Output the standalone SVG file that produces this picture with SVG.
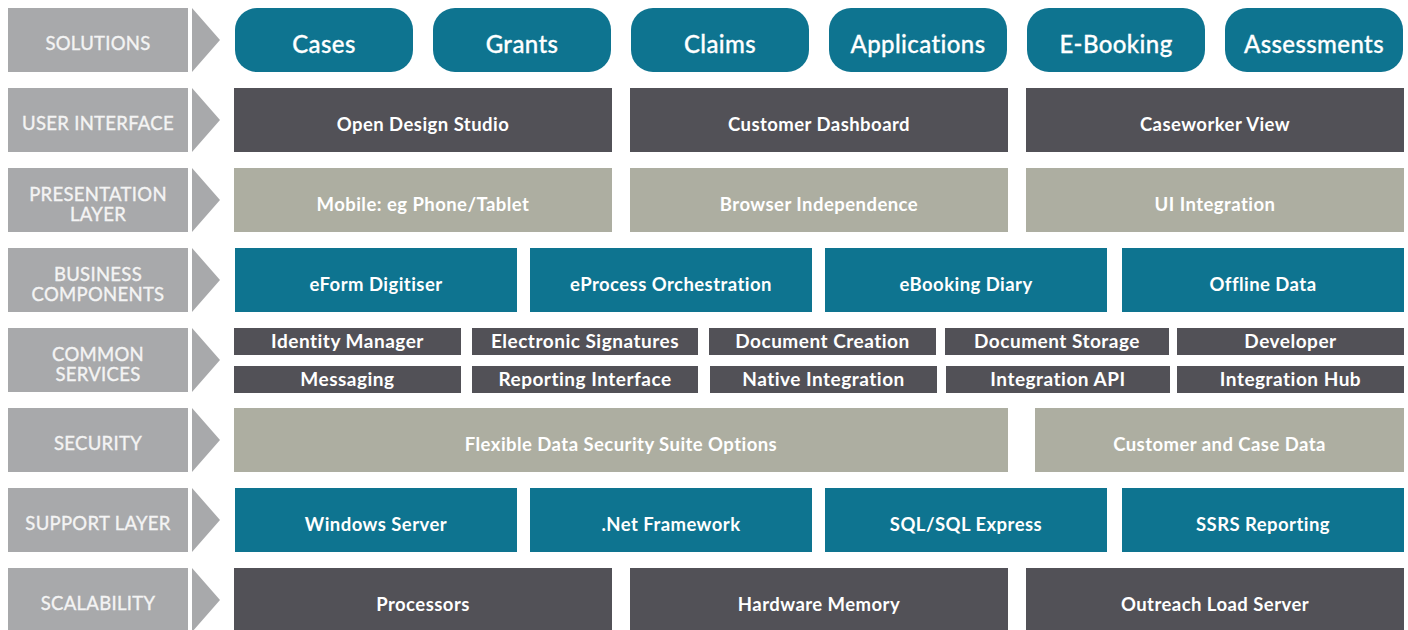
<svg xmlns="http://www.w3.org/2000/svg" width="1408" height="630" viewBox="0 0 1408 630">
<style>
.lbl{fill:#a8a9ab}
.arr{fill:#a8a9ab}
.lt{font-family:Lato,"Liberation Sans",sans-serif;font-size:18.5px;fill:#f4f4f4;text-anchor:middle;letter-spacing:0.3px;stroke:#f4f4f4;stroke-width:0.35}
.teal{fill:#0e7490}
.dark{fill:#525157}
.beige{fill:#adaea1}
.bt{font-family:Lato,"Liberation Sans",sans-serif;font-size:24px;font-weight:500;fill:#ffffff;text-anchor:middle;letter-spacing:0.4px;stroke:#ffffff;stroke-width:0.3}
.t{font-family:Lato,"Liberation Sans",sans-serif;font-size:18.5px;font-weight:700;fill:#ffffff;text-anchor:middle;letter-spacing:0.45px}
.ts{font-family:Lato,"Liberation Sans",sans-serif;font-size:19px;font-weight:700;fill:#ffffff;text-anchor:middle;letter-spacing:0.5px}
</style>
<rect width="1408" height="630" fill="#ffffff"/>
<g id="labels">
<g id="lbl-solutions"><rect class="lbl" x="8" y="8" width="180" height="64"/><polygon class="arr" points="192,8 220,40 192,72"/><text class="lt" x="98" y="50">SOLUTIONS</text></g>
<g id="lbl-ui"><rect class="lbl" x="8" y="88" width="180" height="64"/><polygon class="arr" points="192,88 220,120 192,152"/><text class="lt" x="98" y="130">USER INTERFACE</text></g>
<g id="lbl-pres"><rect class="lbl" x="8" y="168" width="180" height="64"/><polygon class="arr" points="192,168 220,200 192,232"/><text class="lt" x="98" y="201">PRESENTATION</text><text class="lt" x="98" y="221">LAYER</text></g>
<g id="lbl-bus"><rect class="lbl" x="8" y="248" width="180" height="64"/><polygon class="arr" points="192,248 220,280 192,312"/><text class="lt" x="98" y="281">BUSINESS</text><text class="lt" x="98" y="301">COMPONENTS</text></g>
<g id="lbl-common"><rect class="lbl" x="8" y="328" width="180" height="64"/><polygon class="arr" points="192,328 220,360 192,392"/><text class="lt" x="98" y="361">COMMON</text><text class="lt" x="98" y="381">SERVICES</text></g>
<g id="lbl-sec"><rect class="lbl" x="8" y="408" width="180" height="64"/><polygon class="arr" points="192,408 220,440 192,472"/><text class="lt" x="98" y="450">SECURITY</text></g>
<g id="lbl-sup"><rect class="lbl" x="8" y="488" width="180" height="64"/><polygon class="arr" points="192,488 220,520 192,552"/><text class="lt" x="98" y="530">SUPPORT LAYER</text></g>
<g id="lbl-scal"><rect class="lbl" x="8" y="568" width="180" height="64"/><polygon class="arr" points="192,568 220,600 192,632"/><text class="lt" x="98" y="610">SCALABILITY</text></g>
</g>
<g id="solutions">
<g id="cases"><rect class="teal" x="235" y="8" width="178" height="64" rx="22"/><text class="bt" x="324" y="53">Cases</text></g>
<g id="grants"><rect class="teal" x="433" y="8" width="178" height="64" rx="22"/><text class="bt" x="522" y="53">Grants</text></g>
<g id="claims"><rect class="teal" x="631" y="8" width="178" height="64" rx="22"/><text class="bt" x="720" y="53">Claims</text></g>
<g id="applications"><rect class="teal" x="829" y="8" width="178" height="64" rx="22"/><text class="bt" x="918" y="53">Applications</text></g>
<g id="ebooking"><rect class="teal" x="1027" y="8" width="178" height="64" rx="22"/><text class="bt" x="1116" y="53">E-Booking</text></g>
<g id="assessments"><rect class="teal" x="1225" y="8" width="178" height="64" rx="22"/><text class="bt" x="1314" y="53">Assessments</text></g>
</g>
<g id="ui">
<g id="open-design"><rect class="dark" x="234" y="88" width="378" height="64"/><text class="t" x="423" y="131">Open Design Studio</text></g>
<g id="cust-dash"><rect class="dark" x="630" y="88" width="378" height="64"/><text class="t" x="819" y="131">Customer Dashboard</text></g>
<g id="caseworker"><rect class="dark" x="1026" y="88" width="378" height="64"/><text class="t" x="1215" y="131">Caseworker View</text></g>
</g>
<g id="presentation">
<g id="mobile"><rect class="beige" x="234" y="168" width="378" height="64"/><text class="t" x="423" y="211">Mobile: eg Phone/Tablet</text></g>
<g id="browser"><rect class="beige" x="630" y="168" width="378" height="64"/><text class="t" x="819" y="211">Browser Independence</text></g>
<g id="ui-int"><rect class="beige" x="1026" y="168" width="378" height="64"/><text class="t" x="1215" y="211">UI Integration</text></g>
</g>
<g id="business">
<g id="eform"><rect class="teal" x="235" y="248" width="282" height="64"/><text class="t" x="376" y="291">eForm Digitiser</text></g>
<g id="eprocess"><rect class="teal" x="530" y="248" width="282" height="64"/><text class="t" x="671" y="291">eProcess Orchestration</text></g>
<g id="ebooking-diary"><rect class="teal" x="825" y="248" width="282" height="64"/><text class="t" x="966" y="291">eBooking Diary</text></g>
<g id="offline"><rect class="teal" x="1122" y="248" width="282" height="64"/><text class="t" x="1263" y="291">Offline Data</text></g>
</g>
<g id="common">
<g id="identity"><rect class="dark" x="234" y="328" width="227" height="27"/><text class="ts" x="347.5" y="348">Identity Manager</text></g>
<g id="esig"><rect class="dark" x="472" y="328" width="226" height="27"/><text class="ts" x="585" y="348">Electronic Signatures</text></g>
<g id="doc-create"><rect class="dark" x="709" y="328" width="227" height="27"/><text class="ts" x="822.5" y="348">Document Creation</text></g>
<g id="doc-store"><rect class="dark" x="945" y="328" width="224" height="27"/><text class="ts" x="1057" y="348">Document Storage</text></g>
<g id="developer"><rect class="dark" x="1177" y="328" width="227" height="27"/><text class="ts" x="1290.5" y="348">Developer</text></g>
<g id="messaging"><rect class="dark" x="234" y="366" width="227" height="27"/><text class="ts" x="347.5" y="386">Messaging</text></g>
<g id="reporting"><rect class="dark" x="472" y="366" width="226" height="27"/><text class="ts" x="585" y="386">Reporting Interface</text></g>
<g id="native"><rect class="dark" x="710" y="366" width="227" height="27"/><text class="ts" x="823.5" y="386">Native Integration</text></g>
<g id="int-api"><rect class="dark" x="946" y="366" width="224" height="27"/><text class="ts" x="1058" y="386">Integration API</text></g>
<g id="int-hub"><rect class="dark" x="1177" y="366" width="227" height="27"/><text class="ts" x="1290.5" y="386">Integration Hub</text></g>
</g>
<g id="security">
<g id="flex"><rect class="beige" x="234" y="408" width="774" height="64"/><text class="t" x="621" y="451">Flexible Data Security Suite Options</text></g>
<g id="cust-case"><rect class="beige" x="1035" y="408" width="369" height="64"/><text class="t" x="1219.5" y="451">Customer and Case Data</text></g>
</g>
<g id="support">
<g id="winserver"><rect class="teal" x="235" y="488" width="282" height="64"/><text class="t" x="376" y="531">Windows Server</text></g>
<g id="dotnet"><rect class="teal" x="530" y="488" width="282" height="64"/><text class="t" x="671" y="531">.Net Framework</text></g>
<g id="sql"><rect class="teal" x="825" y="488" width="282" height="64"/><text class="t" x="966" y="531">SQL/SQL Express</text></g>
<g id="ssrs"><rect class="teal" x="1122" y="488" width="282" height="64"/><text class="t" x="1263" y="531">SSRS Reporting</text></g>
</g>
<g id="scalability">
<g id="processors"><rect class="dark" x="234" y="568" width="378" height="64"/><text class="t" x="423" y="611">Processors</text></g>
<g id="hwmem"><rect class="dark" x="630" y="568" width="378" height="64"/><text class="t" x="819" y="611">Hardware Memory</text></g>
<g id="outreach"><rect class="dark" x="1026" y="568" width="378" height="64"/><text class="t" x="1215" y="611">Outreach Load Server</text></g>
</g>
<g id="connectors"></g>
</svg>
